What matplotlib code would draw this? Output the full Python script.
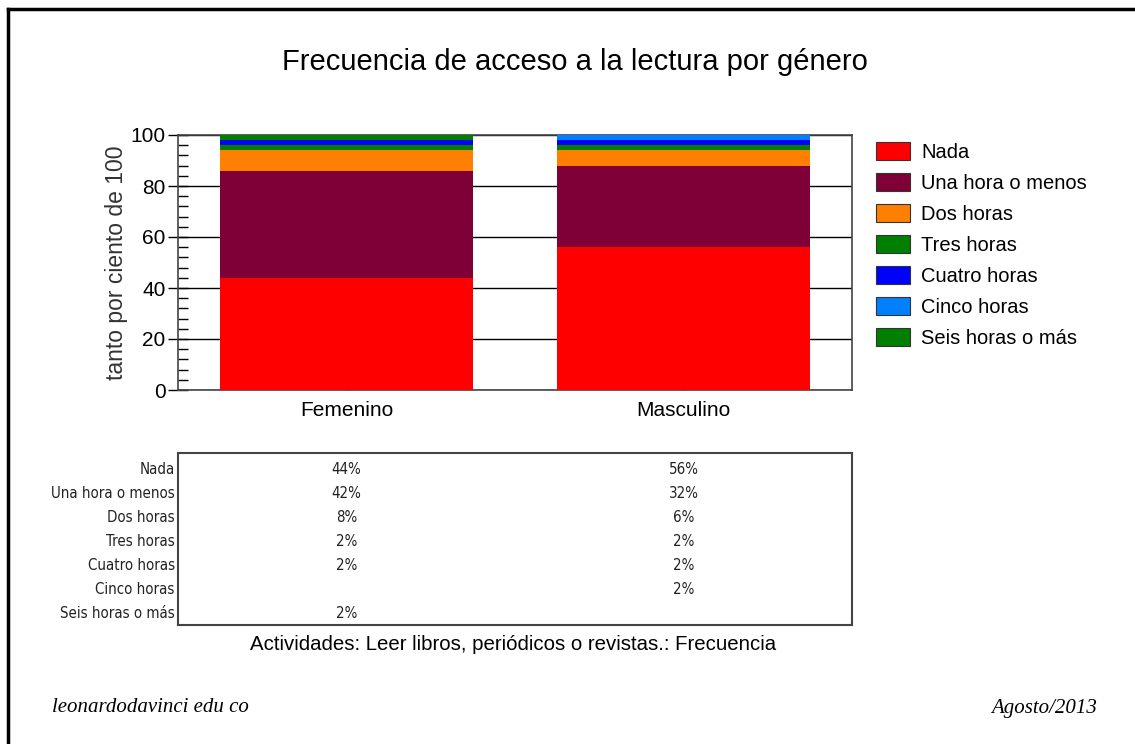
import matplotlib
matplotlib.use("Agg")
import matplotlib.pyplot as plt
from matplotlib.lines import Line2D
from matplotlib.patches import Patch
from matplotlib.ticker import MultipleLocator
import numpy as np

# --- datos ---
generos = ["Femenino", "Masculino"]
categorias = ["Nada", "Una hora o menos", "Dos horas", "Tres horas",
              "Cuatro horas", "Cinco horas", "Seis horas o más"]
femenino = [44, 42, 8, 2, 2, 0, 2]
masculino = [56, 32, 6, 2, 2, 2, 0]
colores = ["#ff0000", "#7f0037", "#ff8000", "#007f00",
           "#0000ff", "#0080ff", "#007f00"]
titulo = "Frecuencia de acceso a la lectura por género"
pie_tabla = "Actividades: Leer libros, periódicos o revistas.: Frecuencia"

W, H = 1135, 744
plt.rcParams['font.family'] = ['Liberation Sans', 'DejaVu Sans']
fig = plt.figure(figsize=(W / 100, H / 100), dpi=100)

def fx(px):
    return px / W

def fy(py):
    return 1 - py / H

# marco exterior (solo arriba e izquierda)
fig.add_artist(Line2D([fx(8), 1], [fy(9), fy(9)], color="black", lw=2.5))
fig.add_artist(Line2D([fx(8), fx(8)], [fy(9), 0], color="black", lw=2.5))

fig.text(fx(575), fy(62), titulo, ha="center", va="center", fontsize=21)

# --- barras apiladas ---
ax = fig.add_axes([fx(178), fy(390), fx(852) - fx(178), fy(135) - fy(390)])
x = np.arange(len(generos))
datos = np.array([femenino, masculino]).T
base = np.zeros(len(generos))
for cat, fila, col in zip(categorias, datos, colores):
    ax.bar(x, fila, bottom=base, width=0.75, color=col, zorder=3)
    base += fila

ax.set_xlim(-0.5, 1.5)
ax.set_ylim(0, 100)
ax.set_xticks(x)
ax.set_xticklabels(generos, fontsize=15)
ax.yaxis.set_major_locator(MultipleLocator(20))
ax.yaxis.set_minor_locator(MultipleLocator(4))
ax.tick_params(axis="y", which="major", direction="inout", length=14, width=1,
               labelsize=15, pad=2)
ax.tick_params(axis="y", which="minor", direction="in", length=7, width=1)
ax.tick_params(axis="x", direction="in", length=5, top=True, pad=8)
ax.grid(axis="y", which="major", color="black", lw=1, zorder=1)
ax.set_ylabel("tanto por ciento de 100", fontsize=16.5, color="#333333", labelpad=2)
for s in ax.spines.values():
    s.set_color("#444444")
    s.set_linewidth(1.2)

# leyenda
handles = [Patch(facecolor=c, edgecolor="#333333", lw=0.8) for c in colores]
fig.legend(handles, categorias, loc="upper left",
           bbox_to_anchor=(fx(868), fy(134)), frameon=False, fontsize=14.5,
           handlelength=1.7, handleheight=1.0, labelspacing=0.55,
           handletextpad=0.55, borderaxespad=0)

# --- tabla de valores ---
tb = fig.add_axes([fx(178), fy(625), fx(852) - fx(178), fy(453) - fy(625)])
tb.set_xlim(-0.5, 1.5)
tb.set_ylim(6.5, -0.667)
tb.set_xticks([])
tb.set_yticks([])
for s in tb.spines.values():
    s.set_color("#444444")
    s.set_linewidth(1.5)
narrow = ['Liberation Sans Narrow', 'DejaVu Sans']
for i, cat in enumerate(categorias):
    tb.text(-0.51, i, cat, ha="right", va="center", fontsize=10.8,
            family=narrow, fontstretch="condensed", color="#222222")
    for j, serie in enumerate([femenino, masculino]):
        if serie[i] > 0:
            tb.text(x[j], i, f"{serie[i]}%", ha="center", va="center",
                    fontsize=10.8, family=narrow, fontstretch="condensed",
                    color="#222222")

fig.text(fx(513), fy(644), pie_tabla, ha="center", va="center", fontsize=14.7)

# pie de página
serif = ['Liberation Serif', 'DejaVu Serif']
fig.text(fx(52), fy(708), "leonardodavinci edu co", ha="left", va="center",
         fontsize=15, style="italic", family=serif)
fig.text(fx(1097), fy(708), "Agosto/2013", ha="right", va="center",
         fontsize=15, style="italic", family=serif)

fig.savefig("out.png", dpi=100)
